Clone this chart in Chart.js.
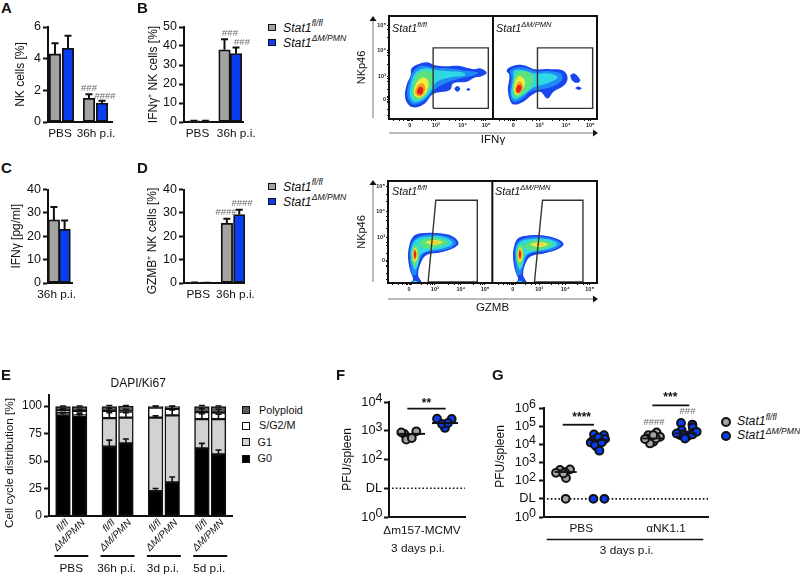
<!DOCTYPE html>
<html><head><meta charset="utf-8">
<script src="https://cdn.jsdelivr.net/npm/chart.js@4"></script>
<style>
html,body{margin:0;padding:0;background:#fff;width:800px;height:577px;overflow:hidden}
body{position:relative;font-family:"Liberation Sans",Arial,sans-serif;color:#111;filter:blur(.3px)}
canvas{position:absolute}
.t{position:absolute;white-space:nowrap;line-height:14px}
.t sup{font-size:.7em;line-height:0;position:relative;top:-.62em;vertical-align:baseline}
.s{position:absolute;box-sizing:border-box}
</style></head><body>
<script>
/* ---------- Data ---------- */
const groupsPBS36=["PBS","36h p.i."];
const aFl=[4.3,1.5], aFlTop=[4.97,1.75];
const aKo=[4.65,1.2], aKoTop=[5.45,1.35];
const bFl=[0.6,38], bFlTop=[0.7,43.5];
const bKo=[0.5,36], bKoTop=[0.6,39.2];
const cGroups=["36h p.i."];
const cFl=[27], cFlTop=[32.5];
const cKo=[23], cKoTop=[26.7];
const dFl=[0.15,25.5], dFlTop=[0.2,27.5];
const dKo=[0.1,29.3], dKoTop=[0.15,31.3];

const eGroupLabels=["PBS","36h p.i.","3d p.i.","5d p.i."];
const eBarLabels=["fl/fl","ΔM/PMN","fl/fl","ΔM/PMN","fl/fl","ΔM/PMN","fl/fl","ΔM/PMN"];
const eG0=[92,91,63,66,22.5,30.5,61.5,56];
const eG1=[1.5,0.5,26,23.5,67,61,26.5,32];
const eS=[2.5,4,6.5,5.5,9,6,6.5,6];
const ePoly=[3.5,4,4,5,1,2,5,5.5];
const eG0Top=[94,93.5,69,70,25,35.5,66,60];
const eG1Top=[94,92,94,94,91,96.5,93,92.5];
const eSTop=[97.5,97,98,97,99.5,99.5,97.5,97];
const ePolyTop=[100,100,100.5,100.5,100,100,100.5,100];

const fFlPfu=[771,955,490,560,880];
const fFlSwarm=[-5,7,-3,2.5,-8];
const fKoPfu=[2630,2570,1250,1720,1860];
const fKoSwarm=[-8,6.7,0,-3,3];
const fMeans=[780,1850];

const gPbsFl=[390,420,290,140,270,250,10];
const gPbsFlSwarm=[-5.7,4.3,-.7,.3,-9.7,-2.3,0];
const gPbsKo=[35000,32000,17000,24000,19500,12700,7400,9100,4470,12700,10,10];
const gPbsKoSwarm=[-4.7,5.3,-5.3,-.3,6.3,-8,-2,-3.7,.7,3,-5.3,5.7];
const gNkFl=[32000,45000,26000,17000,21000,13800,11200,19500,21000,32000];
const gNkFlSwarm=[-5,3.3,6.7,-2.7,-6.7,0,-3.3,-8.3,2.7,0];
const gNkKo=[151000,123000,85000,60000,43500,32000,26000,35000,39800,32000,21000,35000,49000];
const gNkKoSwarm=[-4.7,6.7,7,-4,7.7,-5.7,1,-3,-9,3.7,-.7,6.7,11];
const gMeans=[300,17000,21000,40000];

/* flow contours: [channelX, channelY] pairs, outermost first */
const ifnGateL=[[132,32],[132,214],[297,214],[297,32],[132,32]];
const ifnGateR=[[444,32],[444,214],[609,214],[609,32],[444,32]];
const ifnL=[
 [[47,77],[54,107],[65,132],[67,152],[87,165],[114,171],[137,162],[172,159],[207,160],[252,150],[274,152],[292,139],[277,129],[257,125],[232,112],[192,107],[182,87],[132,75],[107,47],[72,35],[52,52]],
 [[54,82],[62,117],[74,145],[97,160],[132,155],[182,152],[232,145],[267,139],[252,131],[212,122],[172,109],[137,89],[107,57],[74,43],[58,59]],
 [[62,85],[70,122],[82,142],[107,153],[142,147],[182,144],[222,140],[227,131],[182,125],[144,112],[127,87],[104,61],[77,51],[64,65]],
 [[68,87],[79,125],[97,144],[122,144],[134,132],[130,107],[114,77],[94,59],[75,62]],
 [[74,85],[84,112],[104,125],[118,112],[112,82],[94,65],[78,70]],
 [[78,85],[88,103],[102,107],[108,89],[96,69],[82,72]],
 [[84,85],[92,97],[102,92],[98,75],[87,75]]
];
const ifnLBlobs=[[[195,91],[204,99],[213,91],[204,82]],[[231,89],[237,93],[243,89],[237,85]]];
const ifnR=[
 [[355,92],[360,132],[352,147],[372,160],[402,162],[437,150],[482,150],[522,145],[534,122],[522,100],[492,82],[474,62],[452,82],[427,72],[402,52],[372,44],[360,62]],
 [[362,87],[366,127],[362,145],[382,154],[407,154],[437,144],[482,144],[514,137],[517,117],[482,95],[452,89],[422,82],[397,59],[372,52],[364,67]],
 [[366,87],[372,127],[374,145],[402,147],[437,137],[482,137],[504,125],[472,107],[432,95],[402,72],[377,59],[367,69]],
 [[369,87],[374,122],[387,142],[412,142],[432,125],[422,95],[397,72],[377,67]],
 [[373,85],[379,117],[392,129],[407,112],[397,85],[382,72]],
 [[377,89],[384,109],[394,112],[400,95],[390,77],[380,79]],
 [[380,89],[387,102],[396,99],[394,85],[384,79]]
];
const ifnRBlobs=[[[542,132],[554,137],[572,117],[562,109],[547,117]],[[556,93],[566,98],[576,92],[566,88]]];

const gzmbGateL=[[120,3],[143,250],[267,250],[267,3],[120,3]];
const gzmbGateR=[[438,3],[462,250],[583,250],[583,3],[438,3]];
const gzmbL=[
 [[63,0],[75,10],[67,35],[60,75],[63,110],[75,140],[100,150],[155,150],[195,140],[211,120],[195,105],[155,92],[117,85],[100,65],[90,25],[100,0]],
 [[72,25],[65,75],[68,110],[80,133],[110,145],[155,145],[190,135],[203,120],[185,105],[150,97],[110,91],[93,65],[83,25]],
 [[71,65],[69,100],[83,130],[115,140],[165,139],[193,120],[165,105],[120,97],[97,85],[90,55],[80,40]]
];
const gzmbLGreen=[[[90,120],[110,133],[150,135],[180,122],[150,108],[110,105]],[[70,87],[80,115],[92,105],[90,70],[80,50],[71,65]]];
const gzmbLYellow=[[[110,123],[135,130],[163,123],[135,115]],[[73,87],[80,107],[88,93],[85,67],[77,65]]];
const gzmbLOrange=[[[125,123],[140,126],[153,123],[140,119]],[[75,87],[80,103],[86,90],[82,70],[77,75]]];
const gzmbLRed=[[[77,87],[80,99],[84,89],[81,73]]];
const gzmbLFoot=[[[68,0],[80,7],[93,0]],[[73,0],[80,4],[87,0]]];
const gzmbR=[
 [[377,0],[389,10],[381,35],[374,75],[377,110],[389,135],[414,143],[469,143],[509,132],[525,117],[509,103],[469,90],[431,82],[414,65],[404,25],[414,0]],
 [[386,25],[379,75],[382,110],[394,128],[424,138],[469,138],[504,128],[517,117],[499,103],[464,95],[424,88],[407,65],[397,25]],
 [[385,65],[383,100],[397,125],[429,133],[479,132],[507,117],[479,103],[434,94],[411,82],[404,55],[394,40]]
];
const gzmbRGreen=[[[404,112],[424,125],[464,128],[494,117],[464,103],[424,100]],[[384,87],[394,117],[406,107],[404,70],[394,50],[385,65]]];
const gzmbRYellow=[[[424,117],[449,123],[477,117],[449,108]],[[387,87],[394,108],[402,93],[399,67],[391,65]]];
const gzmbROrange=[[[439,117],[454,120],[467,117],[454,113]],[[389,87],[394,103],[400,90],[396,70],[391,75]]];
const gzmbRRed=[[[391,87],[394,99],[398,89],[395,73]]];
const gzmbRFoot=[[[382,0],[394,7],[407,0]],[[387,0],[394,4],[401,0]]];
const flowTickLabels=["0","10³","10⁴","10⁵"];
const ifnXTicks=[62,140,220,290,372,450,530,602], ifnYTicks=[59,129,207,280];
const gzmbXTicks=[63,140,218,290,373,452,530,603], gzmbYTicks=[67,137,215,290];
const flowMinorX=[14,30,44,54,58,66,70,100,118,128,134,180,200,210,256,276,284,330,346,356,364,368,376,380,410,430,442,490,510,522,566,586,596];
const flowMinorY=[12,30,50,54,64,68,90,112,122,165,190,200,245,268];

/* ---------- Style ---------- */
const FF='"Liberation Sans",Arial,sans-serif';
const GRAY='#a3a3a3', BLUE='#0a3df0', HASH='#6a6a6a';
const RAMP=['#1a46ee','#1f8af4','#2fd8e2','#5ae27c','#eeec40','#f79a20','#e6201a'];
const body=document.body;

function text(html,x,y,css){const d=document.createElement('div');d.className='t';d.innerHTML=html;d.style.cssText=`left:${x}px;top:${y-7}px;${css||''}`;body.appendChild(d);return d;}
function swatch(x,y,w,h,bg,bw){const d=document.createElement('div');d.className='s';d.style.cssText=`left:${x}px;top:${y}px;width:${w}px;height:${h}px;background:${bg};border:${bw}px solid #111`;body.appendChild(d);}
const stat=(sup)=>`<i>Stat1<sup>${sup}</sup></i>`;
const FLFL='fl/fl', KOSUP='ΔM/PMN';

function make(o){
  const {cv,area}=o;
  const c=document.createElement('canvas');
  c.width=cv.r-cv.l;c.height=cv.b-cv.t;
  c.style.cssText=`left:${cv.l}px;top:${cv.t}px;width:${cv.r-cv.l}px;height:${cv.b-cv.t}px;${o.css||''}`;
  body.appendChild(c);
  const cfg=o.config;
  cfg.options=Object.assign({responsive:false,animation:false,events:[],devicePixelRatio:1,
    layout:{autoPadding:false,padding:{top:area.t-cv.t,right:cv.r-area.r,left:0,bottom:0}}},cfg.options||{});
  cfg.options.plugins=Object.assign({legend:{display:false},tooltip:{enabled:false},title:{display:false}},cfg.options.plugins||{});
  const sc=cfg.options.scales;
  sc.x.afterFit=s=>{s.height=cv.b-area.b;};
  sc.y.afterFit=s=>{s.width=area.l-cv.l;};
  cfg.plugins=[{id:'extras',afterDatasetsDraw(ch){
    const g=ch.ctx;g.save();
    (o.errs||[]).forEach(e=>{
      const m=ch.getDatasetMeta(e.ds),y=ch.scales.y;
      g.strokeStyle='#111';g.lineWidth=e.w||2;
      m.data.forEach((el,i)=>{
        const top=y.getPixelForValue(e.tops[i]);
        g.beginPath();g.moveTo(el.x,el.y);g.lineTo(el.x,top);
        g.moveTo(el.x-(e.cap||3.5),top);g.lineTo(el.x+(e.cap||3.5),top);g.stroke();
      });
    });
    g.restore();
    g.save();g.translate(-cv.l,-cv.t);
    if(o.draw)o.draw(g,ch,{x:v=>ch.scales.x.getPixelForValue(v)+cv.l,y:v=>ch.scales.y.getPixelForValue(v)+cv.t});
    g.restore();
  }}];
  return new Chart(c,cfg);
}
function note(g,t,x,y,font,color,rot){
  g.save();g.translate(x,y);if(rot)g.rotate(rot);g.font=font;g.fillStyle=color||'#111';g.textAlign='center';g.textBaseline='middle';g.fillText(t,0,0);g.restore();
}
function seg(g,x0,y0,x1,y1,w,color){g.strokeStyle=color||'#111';g.lineWidth=w||2;g.beginPath();g.moveTo(x0,y0);g.lineTo(x1,y1);g.stroke();}

function yAxis(max,ticks,title,size){
  const y={type:'linear',min:0,max,afterBuildTicks:s=>{s.ticks=ticks.map(v=>({value:v}));},
    ticks:{font:{family:FF,size:size||12.5},color:'#111',padding:2},
    grid:{drawOnChartArea:false,tickLength:5,tickWidth:2,tickColor:'#111'},
    border:{color:'#111',width:2}};
  if(title)y.title={display:true,text:title,font:{family:FF,size:12},color:'#111',padding:0};
  return y;
}
function xAxis(width,vals,labels,pad){
  return {type:'linear',offset:false,min:0,max:width,afterBuildTicks:s=>{s.ticks=vals.map(v=>({value:v}));},
    ticks:{autoSkip:false,maxRotation:0,minRotation:0,padding:pad||4,font:{family:FF,size:11.8},color:'#111',callback:(v,i)=>labels[i]},
    grid:{display:false,drawTicks:false},border:{color:'#111',width:2}};
}
function barPanel(o){
  const w=o.barW||11.5;
  const ds=(vals,color,s)=>({type:'bar',grouped:false,barThickness:w,
    data:vals.map((y,g)=>({x:o.start+g*o.gap+s*o.pair,y})),
    backgroundColor:color,borderColor:'#111',borderWidth:1.8,borderSkipped:false});
  make({cv:o.cv,area:o.area,
    errs:[{ds:0,tops:o.flTop},{ds:1,tops:o.koTop}],draw:o.draw,
    config:{type:'bar',data:{datasets:[ds(o.fl,GRAY,0),ds(o.ko,BLUE,1)]},
      options:{scales:{x:xAxis(o.area.r-o.area.l,o.tickX,o.labels,5),y:yAxis(o.max,o.yTicks,o.title)}}}});
}
const hashFont=`9.5px ${FF}`;

/* ---------- A ---------- */
barPanel({cv:{l:13,t:15,r:125,b:145},area:{l:48,t:27,r:112,b:122},fl:aFl,flTop:aFlTop,ko:aKo,koTop:aKoTop,
  start:7,gap:34,pair:13,tickX:[12,48],labels:groupsPBS36,max:6,yTicks:[0,2,4,6],title:'NK cells [%]',
  draw:(g,ch,p)=>{note(g,'###',89,88.5,hashFont,HASH);note(g,'####',105,96.5,hashFont,HASH);}});
/* ---------- B ---------- */
barPanel({cv:{l:146,t:15,r:262,b:145},area:{l:184,t:27,r:250,b:122},fl:bFl,flTop:bFlTop,ko:bKo,koTop:bKoTop,
  start:11,gap:34,pair:12.8,tickX:[15,58],labels:groupsPBS36,max:50,yTicks:[0,10,20,30,40,50],title:'IFNγ⁺ NK cells [%]',
  draw:(g,ch,p)=>{note(g,'###',230,33.5,hashFont,HASH);note(g,'###',242,42,hashFont,HASH);}});
/* ---------- C ---------- */
barPanel({cv:{l:9,t:180,r:90,b:305},area:{l:48,t:188,r:76,b:283},fl:cFl,flTop:cFlTop,ko:cKo,koTop:cKoTop,
  start:6.8,gap:0,pair:12.4,tickX:[10],labels:cGroups,max:40,yTicks:[0,10,20,30,40],title:'IFNγ [pg/ml]'});
/* ---------- D ---------- */
barPanel({cv:{l:146,t:180,r:262,b:305},area:{l:184,t:188,r:248,b:283},fl:dFl,flTop:dFlTop,ko:dKo,koTop:dKoTop,
  start:11,gap:34,pair:13,tickX:[15,54],labels:groupsPBS36,max:40,yTicks:[0,10,20,30,40],
  draw:(g,ch,p)=>{note(g,'GZMB⁺ NK cells [%]',153,241,`12px ${FF}`,'#111',-Math.PI/2);
    note(g,'####',226,212.5,hashFont,HASH);note(g,'####',242,203,hashFont,HASH);}});

/* Legends B, D */
[[24,39,27],[183,198,186]].forEach(r=>{
  swatch(268,r[0],8,7,GRAY,1.5);swatch(268,r[1],8,7,BLUE,1.5);
  text(stat(FLFL),283,r[0]+3.5,'font-size:12.3px');
  text(stat(KOSUP),283,r[1]+3.5,'font-size:12.3px');
});

/* ---------- Flow plots ---------- */
function poly(pts,color){return {type:'scatter',showLine:true,data:pts.concat([pts[0]]).map(p=>({x:p[0],y:p[1]})),
  pointRadius:0,borderWidth:0,borderColor:color,backgroundColor:color,fill:'shape',tension:.4};}
function gate(pts){return {type:'scatter',showLine:true,data:pts.map(p=>({x:p[0],y:p[1]})),pointRadius:0,borderWidth:1.4,borderColor:'#333',fill:false,tension:0};}
function flow(o){
  const fk=f=>({family:FF,size:5.5,weight:'bold'});
  const layers=o.layers;
  const xAll=o.xTicks.concat(flowMinorX), yAll=o.yTicks.concat(flowMinorY);
  const nx=o.xTicks.length, ny=o.yTicks.length;
  make({cv:o.cv,area:o.area,css:'filter:blur(.3px)',
    draw:(g,ch,p)=>{
      const a=o.area;
      g.strokeStyle='#111';g.lineWidth=2;g.strokeRect(a.l,a.t,a.r-a.l,a.b-a.t);
      const dx=p.x(o.divider);seg(g,dx,a.t,dx,a.b,2);
      const vx=o.arrowX, hy=o.arrowY;
      seg(g,vx,a.b-1,vx,o.arrowTop+5,1,'#777');
      g.fillStyle='#111';g.beginPath();g.moveTo(vx,o.arrowTop);g.lineTo(vx-3.5,o.arrowTop+5);g.lineTo(vx+3.5,o.arrowTop+5);g.fill();
      seg(g,a.l,hy,a.r-4,hy,1,'#777');
      g.beginPath();g.moveTo(a.r+1,hy);g.lineTo(a.r-4,hy-3.5);g.lineTo(a.r-4,hy+3.5);g.fill();
    },
    config:{type:'scatter',data:{datasets:o.gates.map(gate).concat(layers.slice().reverse())},
      options:{scales:{
        x:{type:'linear',min:0,max:o.xMax,afterBuildTicks:s=>{s.ticks=xAll.map(v=>({value:v}));},
          ticks:{autoSkip:false,maxRotation:0,minRotation:0,padding:1,font:fk(),color:'#222',callback:(v,i)=>i<nx?flowTickLabels[i%4]:''},
          grid:{drawOnChartArea:false,tickLength:2,tickWidth:1,tickColor:'#111'},border:{display:false},
          title:{display:true,text:o.xTitle,font:{family:FF,size:11.5},color:'#111',padding:0}},
        y:{type:'linear',min:0,max:o.yMax,afterBuildTicks:s=>{s.ticks=yAll.map(v=>({value:v}));},
          ticks:{autoSkip:false,padding:1,font:fk(),color:'#222',callback:(v,i)=>i<ny?flowTickLabels[i]:''},
          grid:{drawOnChartArea:false,tickLength:2,tickWidth:1,tickColor:'#111'},border:{display:false},
          title:{display:true,text:'NKp46',font:{family:FF,size:11},color:'#111',padding:0}}
      }}}});
}
const layered=(arr)=>arr.map((pts,i)=>poly(pts,RAMP[i]));
flow({cv:{l:355,t:5,r:605,b:147},area:{l:389,t:16,r:597,b:119},xMax:622,yMax:310,divider:311,
  xTicks:ifnXTicks,yTicks:ifnYTicks,xTitle:'IFNγ',gates:[ifnGateL,ifnGateR],arrowX:373,arrowY:133,arrowTop:16,
  layers:[].concat(layered(ifnL),layered(ifnR),ifnLBlobs.map(b=>poly(b,RAMP[0])),ifnRBlobs.map(b=>poly(b,RAMP[0])))});
flow({cv:{l:355,t:170,r:605,b:315},area:{l:388,t:181,r:597,b:283},xMax:625,yMax:308,divider:312,
  xTicks:gzmbXTicks,yTicks:gzmbYTicks,xTitle:'GZMB',gates:[gzmbGateL,gzmbGateR],arrowX:373,arrowY:299,arrowTop:180,
  layers:[].concat(
    gzmbL.map((p,i)=>poly(p,RAMP[i])),gzmbLFoot.map((p,i)=>poly(p,RAMP[i*2+2])),
    gzmbLGreen.map(p=>poly(p,RAMP[3])),gzmbLYellow.map(p=>poly(p,RAMP[4])),gzmbLOrange.map((p,i)=>poly(p,i?RAMP[5]:'#f5c92c')),gzmbLRed.map(p=>poly(p,RAMP[6])),
    gzmbR.map((p,i)=>poly(p,RAMP[i])),gzmbRFoot.map((p,i)=>poly(p,RAMP[i*2+2])),
    gzmbRGreen.map(p=>poly(p,RAMP[3])),gzmbRYellow.map(p=>poly(p,RAMP[4])),gzmbROrange.map((p,i)=>poly(p,i?RAMP[5]:'#f5c92c')),gzmbRRed.map(p=>poly(p,RAMP[6])))});
[[392,28],[496,28],[392,191],[495,191]].forEach((p,i)=>{
  text(stat(i%2?KOSUP:FLFL),p[0],p[1],'font-size:10.8px');
});

/* ---------- E ---------- */
(function(){
  const area={l:49,t:395,r:232,b:516},cv={l:0,t:385,r:240,b:577};
  const barX=i=>14+Math.floor(i/2)*46.3+(i%2)*16.6;
  const stack=(vals,color)=>({type:'bar',grouped:false,barThickness:14.7,data:vals.map((y,i)=>({x:barX(i),y})),
    backgroundColor:color,borderColor:'#111',borderWidth:1.5,borderSkipped:false});
  const xa=xAxis(183,eBarLabels.map((l,i)=>barX(i)),eBarLabels,1);
  xa.ticks.minRotation=45;xa.ticks.maxRotation=45;xa.ticks.labelOffset=4;
  xa.ticks.font={family:FF,size:10,style:'italic'};
  const ya=yAxis(110,[0,25,50,75,100],null,12);ya.stacked=true;
  make({cv,area,
    errs:[{ds:0,tops:eG0Top,w:1.6,cap:3},{ds:1,tops:eG1Top,w:1.6,cap:3},{ds:2,tops:eSTop,w:1.6,cap:3},{ds:3,tops:ePolyTop,w:1.6,cap:3}],
    draw:(g,ch,p)=>{
      note(g,'Cell cycle distribution [%]',9.5,463,`11.7px ${FF}`,'#111',-Math.PI/2);
      eGroupLabels.forEach((t,i)=>{
        const cx=p.x(barX(i*2)+8.3);
        seg(g,cx-17,556,cx+17,556,2);
        note(g,t,cx+(i?-1:0),569,`11.8px ${FF}`);
      });
    },
    config:{type:'bar',data:{datasets:[stack(eG0,'#000'),stack(eG1,'#d2d2d2'),stack(eS,'#fff'),stack(ePoly,'#5e5e5e')]},
      options:{scales:{x:xa,y:ya}}}});
  text('DAPI/Ki67',110.5,383,'font-size:12px');
  [['Polyploid','#5e5e5e',410],['S/G2/M','#fff',425.7],['G1','#d2d2d2',442.3],['G0','#000',458.7]].forEach(r=>{
    swatch(242,r[2]-4,8,8,r[1],1.3);
    text(r[0],r[0][0]==='G'?257.5:259,r[2]-.5,'font-size:10.8px');
  });
})();

/* ---------- F, G shared ---------- */
function swarm(vals,offs,center,color){return {type:'scatter',data:vals.map((y,i)=>({x:center+offs[i],y})),
  pointRadius:3.9,pointBorderWidth:2,pointBackgroundColor:color,pointBorderColor:'#111',showLine:false};}
function hline(x0,x1,y,w,dash){return {type:'scatter',showLine:true,data:[{x:x0,y},{x:x1,y}],pointRadius:0,borderColor:'#111',borderWidth:w,borderDash:dash||[],fill:false,tension:0};}
function logAxis(max,vals,labels,title,pad){
  const y={type:'logarithmic',min:1,max,afterBuildTicks:s=>{s.ticks=vals.map(v=>({value:v}));},
    ticks:{font:{family:FF,size:12.8},color:'#111',padding:pad,autoSkip:false,callback:(v,i)=>labels[i]},
    grid:{drawOnChartArea:false,tickLength:5,tickWidth:2,tickColor:'#111'},border:{color:'#111',width:2}};
  if(title)y.title={display:true,text:title,font:{family:FF,size:12},color:'#111',padding:0};
  return y;
}
/* power-of-ten tick: base "10" through the scale, exponent raised beside it */
function exponents(g,p,vals,labels,exps,x){
  vals.forEach((v,i)=>{if(exps[i])note(g,exps[i],x,p.y(v)-3.6,`12.5px ${FF}`);});
}
const TEN="10\u2002";
/* ---------- F ---------- */
const fTickVals=[1,10,100,1000,10000], fTickLabels=[TEN,"DL",TEN,TEN,TEN], fTickExp=["0","","2","3","4"];
make({cv:{l:340,t:390,r:478,b:565},area:{l:389,t:402,r:465,b:517},
  draw:(g,ch,p)=>{
    exponents(g,p,fTickVals,fTickLabels,fTickExp,379);
    const yy=p.y(5900);seg(g,p.x(18.3),yy,p.x(56.7),yy,1.8);
    note(g,'**',p.x(37.5),404,`bold 12px ${FF}`);
    note(g,'3 days p.i.',418,549,`11.8px ${FF}`);
  },
  config:{type:'scatter',data:{datasets:[
      hline(9,36,fMeans[0],2),hline(43,69,fMeans[1],2),
      swarm(fFlPfu,fFlSwarm,20.3,GRAY),swarm(fKoPfu,fKoSwarm,56,BLUE),
      hline(3,76,10,1.6,[1.6,2.2])]},
    options:{scales:{x:xAxis(76,[33],["Δm157-MCMV"],7),y:logAxis(1e4,fTickVals,fTickLabels,'PFU/spleen',2)}}}});
/* ---------- G ---------- */
const gTickVals=[1,10,100,1000,10000,100000,1000000], gTickLabels=[TEN,"DL",TEN,TEN,TEN,TEN,TEN], gTickExp=["0","","2","3","4","5","6"];
make({cv:{l:494,t:390,r:720,b:565},area:{l:544,t:408,r:708,b:517},
  draw:(g,ch,p)=>{
    exponents(g,p,gTickVals,gTickLabels,gTickExp,532.5);
    let yy=p.y(1.2e5);seg(g,p.x(18.7),yy,p.x(50),yy,1.8);
    note(g,'****',p.x(37.7),417.5,`bold 12px ${FF}`);
    yy=p.y(1.41e6);seg(g,p.x(108.3),yy,p.x(145.3),yy,1.8);
    note(g,'***',p.x(126.3),398,`bold 12px ${FF}`);
    note(g,'PFU/spleen',500.5,456.5,`12px ${FF}`,'#111',-Math.PI/2);
    note(g,'####',654,422,hashFont,HASH);note(g,'###',687.5,411.7,hashFont,HASH);
    seg(g,546.7,539.5,703.3,539.5,1.6);
    note(g,'3 days p.i.',626.7,551,`11.8px ${FF}`);
  },
  config:{type:'scatter',data:{datasets:[
      hline(10.7,32.7,gMeans[0],1.8),hline(43.7,65.7,gMeans[1],1.8),hline(98.3,120.3,gMeans[2],1.8),hline(130.7,152.7,gMeans[3],1.8),
      swarm(gPbsFl,gPbsFlSwarm,21.7,GRAY),swarm(gPbsKo,gPbsKoSwarm,54.7,BLUE),
      swarm(gNkFl,gNkFlSwarm,109.3,GRAY),swarm(gNkKo,gNkKoSwarm,141.7,BLUE),
      hline(3,164,10,1.6,[1.6,2.2])]},
    options:{scales:{x:xAxis(164,[37.3,122],["PBS","αNK1.1"],5),y:logAxis(1e6,gTickVals,gTickLabels,null,3.5)}}}});
[[421.7,GRAY,FLFL],[435.7,BLUE,KOSUP]].forEach(r=>{
  const d=document.createElement('div');d.className='s';
  d.style.cssText=`left:721px;top:${r[0]-5}px;width:10px;height:10px;border-radius:50%;background:${r[1]};border:2px solid #111`;
  body.appendChild(d);
  text(stat(r[2]),737,r[0]-.5,'font-size:12.3px');
});

/* ---------- Panel letters ---------- */
[['A',1,8],['B',137,8],['C',1,168],['D',137,168],['E',1,375],['F',336,375],['G',492,375]].forEach(r=>{
  text(r[0],r[1],r[2],'font-size:15px;font-weight:bold;color:#111');
});
</script>
</body></html>
